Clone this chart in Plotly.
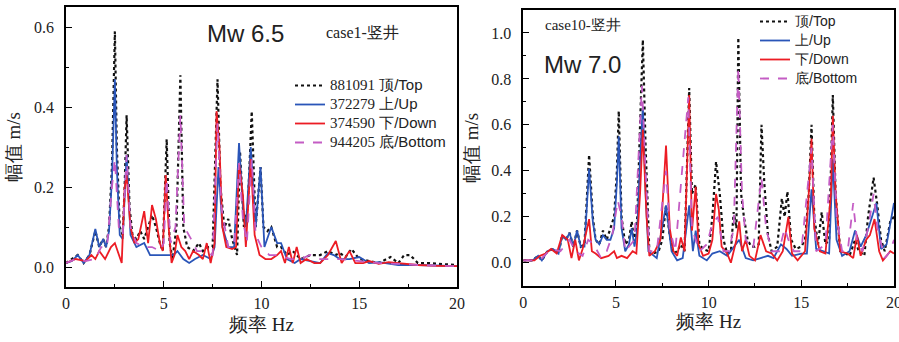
import plotly.graph_objects as go

# ---------------- Panel 1: Mw 6.5, case1 ----------------
f1_top = [0, 0.3, 0.6, 0.9, 1.2, 1.5, 1.7, 1.9, 2.05, 2.2, 2.35, 2.5, 2.6, 2.75, 2.9, 3.0, 3.1, 3.25, 3.4, 3.6, 3.8, 4.0, 4.2, 4.4, 4.6, 4.8, 4.95, 5.15, 5.3, 5.45, 5.65, 5.85, 6.0, 6.2, 6.5, 6.8, 7.0, 7.3, 7.5, 7.75, 7.9, 8.1, 8.3, 8.5, 8.75, 8.9, 9.1, 9.3, 9.5, 9.7, 9.95, 10.1, 10.3, 10.5, 10.8, 11.0, 11.3, 11.6, 12.0, 12.5, 13.0, 13.4, 13.8, 14.0, 14.3, 14.6, 15.0, 15.5, 16.0, 16.6, 17.0, 17.3, 17.6, 18.0, 18.5, 19.0, 20.0]
v1_top = [0.01, 0.02, 0.03, 0.01, 0.03, 0.09, 0.05, 0.07, 0.05, 0.1, 0.25, 0.59, 0.3, 0.1, 0.08, 0.2, 0.38, 0.15, 0.08, 0.07, 0.09, 0.07, 0.1, 0.13, 0.1, 0.06, 0.04, 0.32, 0.06, 0.02, 0.1, 0.48, 0.1, 0.05, 0.04, 0.06, 0.04, 0.05, 0.05, 0.47, 0.2, 0.1, 0.12, 0.07, 0.03, 0.29, 0.1, 0.15, 0.39, 0.1, 0.25, 0.1, 0.09, 0.1, 0.05, 0.05, 0.03, 0.04, 0.02, 0.03, 0.03, 0.04, 0.03, 0.035, 0.025, 0.045, 0.02, 0.015, 0.01, 0.025, 0.01, 0.03, 0.03, 0.01, 0.01, 0.008, 0.005]

f1_up = [0, 0.3, 0.6, 0.9, 1.2, 1.5, 1.7, 1.9, 2.05, 2.2, 2.35, 2.5, 2.6, 2.75, 2.9, 3.1, 3.3, 3.6, 4.0, 4.3, 4.6, 5.0, 5.5, 5.7, 6.0, 6.3, 6.6, 7.0, 7.4, 7.6, 7.8, 8.0, 8.3, 8.6, 8.85, 9.05, 9.2, 9.45, 9.7, 9.95, 10.15, 10.5, 10.8, 11.0, 11.3, 11.7, 12.0, 12.5, 13.0, 13.4, 13.7, 14.0, 14.5, 15.0, 15.5, 16.0, 17.0, 18.0, 20.0]
v1_up = [0.01, 0.015, 0.03, 0.01, 0.03, 0.095, 0.05, 0.07, 0.05, 0.09, 0.22, 0.47, 0.25, 0.08, 0.07, 0.28, 0.08, 0.05, 0.06, 0.03, 0.03, 0.03, 0.03, 0.04, 0.02, 0.01, 0.02, 0.03, 0.02, 0.05, 0.25, 0.1, 0.05, 0.05, 0.31, 0.15, 0.1, 0.3, 0.1, 0.25, 0.05, 0.1, 0.06, 0.06, 0.02, 0.01, 0.02, 0.015, 0.01, 0.035, 0.03, 0.02, 0.02, 0.025, 0.01, 0.012, 0.005, 0.005, 0.002]

f1_down = [0, 0.5, 1.0, 1.3, 1.5, 1.7, 2.0, 2.3, 2.5, 2.7, 2.85, 3.0, 3.1, 3.3, 3.5, 3.7, 4.0, 4.2, 4.4, 4.6, 4.8, 4.95, 5.1, 5.25, 5.4, 5.55, 5.7, 5.9, 6.1, 6.3, 6.5, 6.8, 7.0, 7.2, 7.4, 7.6, 7.7, 7.85, 8.0, 8.2, 8.5, 8.7, 8.85, 9.05, 9.2, 9.45, 9.65, 9.9, 10.2, 10.5, 10.8, 11.0, 11.2, 11.4, 11.6, 11.8, 12.0, 12.3, 12.7, 13.0, 13.4, 13.8, 14.1, 14.5, 14.8, 15.2, 15.5, 16.0, 16.5, 17.0, 17.5, 18.0, 19.0, 20.0]
v1_down = [0.01, 0.02, 0.015, 0.03, 0.02, 0.04, 0.02, 0.05, 0.06, 0.03, 0.01, 0.2, 0.23, 0.1, 0.06, 0.07, 0.14, 0.06, 0.155, 0.12, 0.06, 0.04, 0.23, 0.1, 0.01, 0.03, 0.08, 0.05, 0.04, 0.02, 0.04, 0.03, 0.02, 0.06, 0.01, 0.06, 0.39, 0.3, 0.1, 0.05, 0.045, 0.05, 0.26, 0.18, 0.05, 0.27, 0.08, 0.03, 0.02, 0.02, 0.03, 0.04, 0.01, 0.05, 0.01, 0.05, 0.01, 0.02, 0.01, 0.01, 0.03, 0.065, 0.01, 0.04, 0.01, 0.01, 0.015, 0.008, 0.012, 0.01, 0.008, 0.005, 0.003, 0.002]

f1_bot = [0, 0.5, 1.0, 1.5, 1.8, 2.1, 2.35, 2.5, 2.7, 2.9, 3.1, 3.3, 3.6, 4.0, 4.4, 4.8, 5.0, 5.15, 5.35, 5.6, 5.85, 6.05, 6.4, 6.7, 7.0, 7.5, 7.75, 7.95, 8.3, 8.6, 8.85, 9.05, 9.25, 9.5, 9.7, 10.0, 10.4, 10.8, 11.5, 12.0, 12.5, 13.0, 14.0, 15.0, 16.0, 17.0, 18.0, 20.0]
v1_bot = [0.01, 0.02, 0.015, 0.02, 0.05, 0.05, 0.2, 0.27, 0.1, 0.08, 0.28, 0.1, 0.06, 0.05, 0.05, 0.04, 0.06, 0.22, 0.06, 0.1, 0.38, 0.1, 0.07, 0.04, 0.04, 0.03, 0.36, 0.15, 0.05, 0.05, 0.26, 0.12, 0.06, 0.27, 0.08, 0.05, 0.03, 0.03, 0.02, 0.02, 0.03, 0.02, 0.02, 0.015, 0.01, 0.008, 0.005, 0.002]

# ---------------- Panel 2: Mw 7.0, case10 ----------------
f2_top = [0, 0.5, 0.8, 1.0, 1.3, 1.6, 1.9, 2.1, 2.3, 2.5, 2.7, 2.9, 3.1, 3.3, 3.55, 3.75, 3.9, 4.1, 4.3, 4.5, 4.7, 4.9, 5.05, 5.15, 5.3, 5.5, 5.7, 5.85, 6.0, 6.15, 6.3, 6.45, 6.6, 6.8, 7.0, 7.3, 7.5, 7.7, 7.9, 8.1, 8.3, 8.5, 8.7, 8.95, 9.1, 9.3, 9.5, 9.7, 10.0, 10.2, 10.4, 10.6, 10.8, 11.0, 11.2, 11.35, 11.5, 11.6, 11.75, 11.9, 12.1, 12.3, 12.5, 12.7, 12.85, 13.0, 13.2, 13.4, 13.7, 13.95, 14.1, 14.25, 14.45, 14.7, 15.0, 15.2, 15.4, 15.55, 15.7, 15.9, 16.1, 16.3, 16.5, 16.7, 16.85, 17.1, 17.4, 17.6, 17.9, 18.1, 18.4, 18.6, 18.9, 19.1, 19.3, 19.5, 19.8, 20.0]
v2_top = [0.01, 0.01, 0.03, 0.01, 0.05, 0.06, 0.04, 0.12, 0.1, 0.13, 0.07, 0.14, 0.07, 0.08, 0.47, 0.2, 0.1, 0.08, 0.14, 0.1, 0.15, 0.2, 0.4, 0.66, 0.2, 0.08, 0.1, 0.18, 0.08, 0.2, 0.6, 0.97, 0.5, 0.05, 0.04, 0.05, 0.1, 0.25, 0.12, 0.04, 0.05, 0.08, 0.05, 0.76, 0.3, 0.34, 0.08, 0.06, 0.05, 0.2, 0.44, 0.3, 0.1, 0.04, 0.05, 0.22, 0.15, 0.98, 0.3, 0.2, 0.1, 0.07, 0.07, 0.08, 0.6, 0.35, 0.12, 0.05, 0.07, 0.28, 0.2, 0.31, 0.1, 0.06, 0.07, 0.1, 0.3, 0.6, 0.2, 0.08, 0.22, 0.08, 0.1, 0.73, 0.3, 0.05, 0.04, 0.03, 0.1, 0.05, 0.03, 0.2, 0.37, 0.25, 0.1, 0.05, 0.18, 0.2]

f2_up = [0, 0.5, 0.8, 1.0, 1.3, 1.6, 1.9, 2.1, 2.3, 2.5, 2.7, 2.9, 3.1, 3.3, 3.55, 3.75, 3.9, 4.1, 4.3, 4.5, 4.7, 4.9, 5.05, 5.15, 5.3, 5.5, 5.7, 5.85, 6.0, 6.15, 6.3, 6.45, 6.6, 6.75, 7.2, 7.7, 8.0, 8.3, 8.6, 8.95, 9.15, 9.3, 9.5, 9.9, 10.2, 10.6, 11.0, 11.5, 11.65, 12.0, 12.4, 12.8, 13.2, 13.5, 13.9, 14.2, 14.5, 15.0, 15.3, 15.55, 15.8, 16.2, 16.5, 16.7, 16.9, 17.2, 17.6, 17.9, 18.2, 18.5, 18.9, 19.05, 19.3, 19.6, 20.0]
v2_up = [0.01, 0.01, 0.03, 0.01, 0.05, 0.06, 0.04, 0.12, 0.1, 0.13, 0.07, 0.14, 0.07, 0.07, 0.41, 0.18, 0.1, 0.08, 0.12, 0.1, 0.1, 0.15, 0.35, 0.55, 0.15, 0.05, 0.08, 0.15, 0.07, 0.15, 0.45, 0.68, 0.3, 0.05, 0.02, 0.25, 0.05, 0.01, 0.02, 0.25, 0.05, 0.14, 0.03, 0.01, 0.04, 0.05, 0.03, 0.08, 0.1, 0.02, 0.01, 0.02, 0.03, 0.02, 0.08, 0.06, 0.03, 0.04, 0.04, 0.32, 0.06, 0.05, 0.04, 0.45, 0.1, 0.03, 0.05, 0.14, 0.07, 0.12, 0.22, 0.26, 0.06, 0.08, 0.26]

f2_down = [0, 0.6, 0.9, 1.2, 1.5, 1.8, 2.1, 2.4, 2.6, 2.8, 3.0, 3.2, 3.55, 3.7, 3.9, 4.2, 4.6, 4.9, 5.05, 5.3, 5.6, 5.9, 6.1, 6.3, 6.45, 6.65, 6.8, 7.1, 7.4, 7.7, 7.9, 8.1, 8.3, 8.5, 8.7, 8.95, 9.1, 9.3, 9.45, 9.7, 10.0, 10.2, 10.4, 10.55, 10.7, 11.0, 11.2, 11.5, 11.65, 11.8, 12.0, 12.2, 12.5, 12.8, 13.1, 13.4, 13.7, 14.0, 14.3, 14.5, 14.8, 15.2, 15.4, 15.55, 15.7, 16.0, 16.3, 16.6, 16.7, 16.85, 17.1, 17.5, 17.8, 18.0, 18.2, 18.5, 18.7, 18.95, 19.2, 19.4, 19.6, 19.8, 20.0]
v2_down = [0.01, 0.01, 0.03, 0.04, 0.06, 0.04, 0.12, 0.1, 0.02, 0.1, 0.01, 0.06, 0.19, 0.05, 0.04, 0.02, 0.03, 0.05, 0.02, 0.03, 0.02, 0.05, 0.04, 0.3, 0.58, 0.2, 0.03, 0.05, 0.1, 0.51, 0.15, 0.05, 0.03, 0.11, 0.05, 0.73, 0.14, 0.33, 0.08, 0.03, 0.04, 0.1, 0.3, 0.23, 0.07, 0.04, 0.0, 0.1, 0.18, 0.05, 0.1, 0.03, 0.01, 0.12, 0.05, 0.04, 0.01, 0.05, 0.2, 0.04, 0.01, 0.05, 0.3, 0.54, 0.15, 0.05, 0.04, 0.3, 0.64, 0.3, 0.05, 0.04, 0.02, 0.12, 0.03, 0.1, 0.12, 0.19, 0.05, 0.01, 0.03, 0.05, 0.04]

f2_bot = [0, 0.5, 1.0, 1.5, 2.0, 2.5, 2.8, 3.2, 3.5, 3.8, 4.2, 4.5, 4.8, 5.1, 5.3, 5.5, 6.0, 6.4, 6.6, 6.8, 7.2, 7.7, 7.9, 8.2, 8.9, 9.1, 9.5, 9.9, 10.2, 10.5, 10.8, 11.1, 11.35, 11.6, 11.8, 12.0, 12.4, 12.85, 13.1, 13.4, 13.8, 14.1, 14.3, 14.6, 15.0, 15.55, 15.8, 16.3, 16.7, 16.9, 17.2, 17.5, 17.8, 18.0, 18.3, 18.6, 18.9, 19.1, 19.5, 19.8, 20.0]
v2_bot = [0.01, 0.01, 0.02, 0.06, 0.05, 0.1, 0.05, 0.03, 0.1, 0.08, 0.02, 0.05, 0.12, 0.27, 0.2, 0.05, 0.1, 0.77, 0.4, 0.05, 0.05, 0.4, 0.15, 0.05, 0.72, 0.15, 0.05, 0.08, 0.17, 0.2, 0.05, 0.05, 0.15, 0.85, 0.3, 0.1, 0.06, 0.37, 0.15, 0.05, 0.05, 0.15, 0.1, 0.05, 0.05, 0.5, 0.05, 0.08, 0.6, 0.2, 0.05, 0.05, 0.26, 0.1, 0.05, 0.15, 0.3, 0.15, 0.02, 0.05, 0.1]

ids1 = ["881091", "372279", "374590", "944205"]
labels = ["顶/Top", "上/Up", "下/Down", "底/Bottom"]

BLACK = "#111111"
BLUE = "#2a55b8"
RED = "#ec1c24"
MAG = "#c45cc4"

SERIF = "Times New Roman, Liberation Serif, DejaVu Serif, serif"
SANS = "Arial, Liberation Sans, sans-serif"

styles = [
    dict(color=BLACK, width=2.2, dash="dot"),
    dict(color=BLUE, width=1.8),
    dict(color=RED, width=1.8),
    dict(color=MAG, width=1.8, dash="dash"),
]

fig = go.Figure()

p1 = [(f1_top, v1_top), (f1_up, v1_up), (f1_down, v1_down), (f1_bot, v1_bot)]
p2 = [(f2_top, v2_top), (f2_up, v2_up), (f2_down, v2_down), (f2_bot, v2_bot)]

for i, (fx, vy) in enumerate(p1):
    name = (f'<span style="font-size:15px"><span style="font-family:{SERIF}">{ids1[i]}</span> '
            f'{labels[i]}</span>')
    fig.add_trace(go.Scatter(x=fx, y=vy, mode="lines", line=styles[i], name=name,
                             xaxis="x", yaxis="y", legend="legend"))
for i, (fx, vy) in enumerate(p2):
    name = f'<span style="font-size:14px">{labels[i]}</span>'
    fig.add_trace(go.Scatter(x=fx, y=vy, mode="lines", line=styles[i], name=name,
                             xaxis="x2", yaxis="y2", legend="legend2"))

W, H = 899, 342
def PX(x):
    return x / W
def PY(y):
    return 1 - y / H

TXT = "#222222"
axis_common = dict(
    showline=True, linecolor="black", linewidth=1.5, mirror=True,
    ticks="inside", ticklen=6, tickwidth=1.2, tickcolor="black",
    showgrid=False, zeroline=False, automargin=False,
    tickfont=dict(family=SERIF, size=16, color=TXT),
    ticklabeloverflow="allow",
)
minor_common = dict(ticks="inside", ticklen=3, tickwidth=1, tickcolor="black", showgrid=False)
title_font = dict(family=SERIF, size=19, color=TXT)

fig.update_layout(
    width=W, height=H,
    margin=dict(l=0, r=0, t=0, b=0),
    paper_bgcolor="white", plot_bgcolor="white",
    showlegend=True,
    xaxis=dict(domain=[PX(66), PX(457)], range=[0, 20], dtick=5, anchor="y",
               minor=dict(dtick=2.5, **minor_common), ticklabelstandoff=1,
               title=dict(text="频率 Hz", font=title_font, standoff=7),
               **axis_common),
    yaxis=dict(domain=[PY(287), PY(7.3)], range=[-0.05, 0.65], dtick=0.2, tickformat=".1f", anchor="x",
               minor=dict(dtick=0.1, **minor_common), ticklabelstandoff=7,
               title=dict(text="幅值 m/s", font=title_font, standoff=8),
               **axis_common),
    xaxis2=dict(domain=[PX(523.3), PX(894)], range=[0, 20], dtick=5, anchor="y2",
                minor=dict(dtick=2.5, **minor_common), ticklabelstandoff=1,
                title=dict(text="频率 Hz", font=title_font, standoff=5),
                **axis_common),
    yaxis2=dict(domain=[PY(285.7), PY(10)], range=[-0.1, 1.1], dtick=0.2, tickformat=".1f", anchor="x2",
                minor=dict(dtick=0.1, **minor_common), ticklabelstandoff=7,
                title=dict(text="幅值 m/s", font=title_font, standoff=8),
                **axis_common),
    legend=dict(x=PX(290), y=PY(71), xanchor="left", yanchor="top", bgcolor="rgba(0,0,0,0)",
                font=dict(family=SANS, size=12, color=TXT), tracegroupgap=0,
                itemwidth=30, traceorder="normal"),
    legend2=dict(x=PX(755), y=PY(7), xanchor="left", yanchor="top", bgcolor="rgba(0,0,0,0)",
                 font=dict(family=SANS, size=12, color=TXT), tracegroupgap=0,
                 itemwidth=30, traceorder="normal"),
    annotations=[
        dict(text="Mw 6.5", x=PX(245.5), y=PY(34), xref="paper", yref="paper", showarrow=False,
             xanchor="center", yanchor="middle", font=dict(family=SANS, size=24, color=TXT)),
        dict(text="case1-竖井", x=PX(362), y=PY(33), xref="paper", yref="paper", showarrow=False,
             xanchor="center", yanchor="middle", font=dict(family=SERIF, size=16, color=TXT)),
        dict(text="case10-竖井", x=PX(582.5), y=PY(25), xref="paper", yref="paper", showarrow=False,
             xanchor="center", yanchor="middle", font=dict(family=SERIF, size=15, color=TXT)),
        dict(text="Mw 7.0", x=PX(582), y=PY(64), xref="paper", yref="paper", showarrow=False,
             xanchor="center", yanchor="middle", font=dict(family=SANS, size=24, color=TXT)),
    ],
)

fig.write_html("out.html", config={"displayModeBar": False},
               post_script="document.body.style.margin='0';document.body.style.padding='0';")
